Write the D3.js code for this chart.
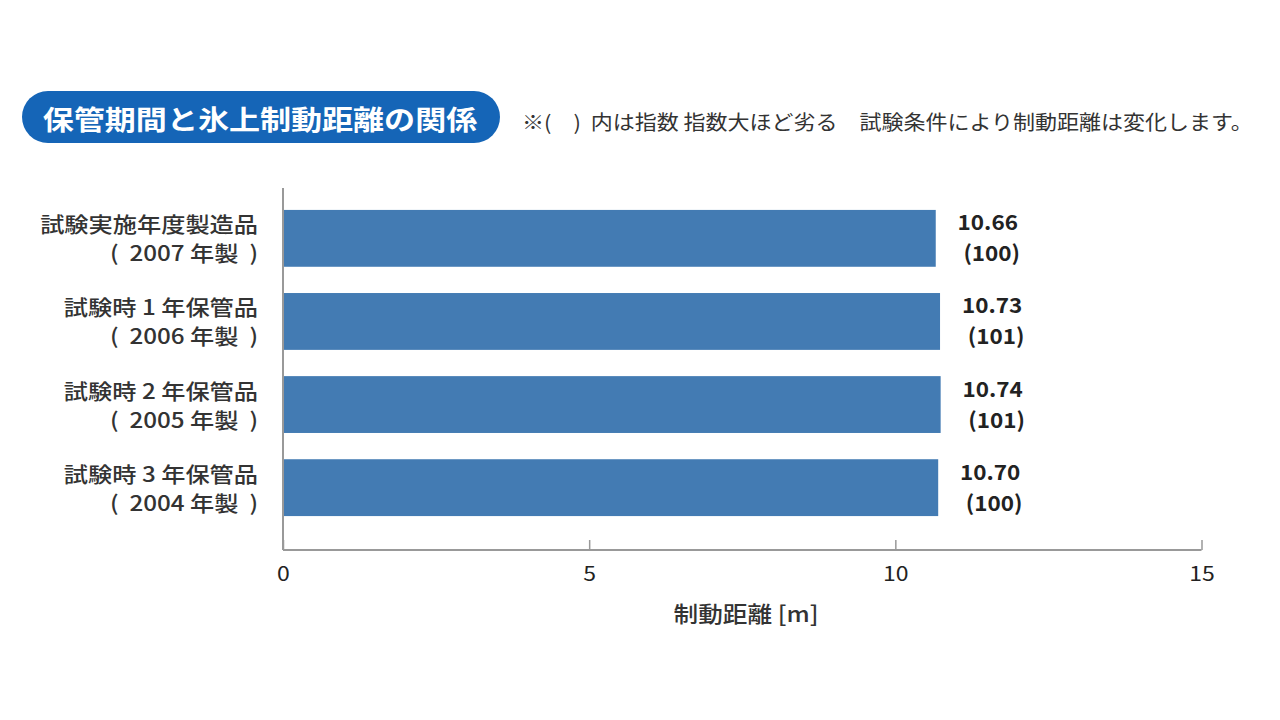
<!DOCTYPE html>
<html><head><meta charset="utf-8">
<script src="https://cdn.jsdelivr.net/npm/d3@7"></script>
<style>
html,body{margin:0;padding:0;background:#fff;}
svg{display:block;font-family:"Noto Sans CJK JP","Noto Sans",sans-serif;}
text{white-space:pre;}
</style></head>
<body><svg id="chart" width="1280" height="720"></svg>
<script>
const categoriesLine1 = ["試験実施年度製造品", "試験時 1 年保管品", "試験時 2 年保管品", "試験時 3 年保管品"];
const categoriesLine2 = ["(  2007 年製  )", "(  2006 年製  )", "(  2005 年製  )", "(  2004 年製  )"];
const distances = [10.66, 10.73, 10.74, 10.70];
const indices = [100, 101, 101, 100];
const xTicks = [0, 5, 10, 15];
const titleText = "保管期間と氷上制動距離の関係";
const noteText = "※(　)  内は指数 指数大ほど劣る　試験条件により制動距離は変化します。";
const axisTitle = "制動距離 [m]";

const data = distances.map((v, i) => ({v, idx: indices[i], l1: categoriesLine1[i], l2: categoriesLine2[i], key: i}));

const svg = d3.select("#chart");
const x = d3.scaleLinear().domain([0, 15]).range([283, 1201.5]);
const y = d3.scaleBand().domain(data.map(d => d.key)).range([193.3, 532.7]).paddingInner(0.316).paddingOuter(0.2);
const axisY = 550;

// helper: text horizontally stretched around its anchor point
function stretched(parent, ax, ay, sx) {
  return parent.append("g").attr("transform", `translate(${ax},${ay}) scale(${sx},1)`).append("text").attr("x", 0).attr("y", 0);
}

// Title pill
svg.append("rect").attr("x", 22).attr("y", 91).attr("width", 478).attr("height", 52)
  .attr("rx", 26).attr("fill", "#1565b7");
stretched(svg, 260, 118, 1.15).attr("text-anchor", "middle")
  .attr("dominant-baseline", "central").attr("fill", "#fff").attr("font-weight", "bold")
  .attr("font-size", 27).text(titleText);
stretched(svg, 522, 121, 1.1).attr("dominant-baseline", "central")
  .attr("fill", "#333").attr("font-size", 20).text(noteText);

// Bars
svg.selectAll("rect.bar").data(data).enter().append("rect").attr("class", "bar")
  .attr("x", x(0)).attr("y", d => y(d.key)).attr("width", d => x(d.v) - x(0))
  .attr("height", y.bandwidth()).attr("fill", "#437bb3");

// X axis
const xAxis = d3.axisBottom(x).tickValues(xTicks).tickSize(-10).tickPadding(17).tickFormat(d3.format("d"));
const gx = svg.append("g").attr("transform", `translate(0,${axisY})`).call(xAxis);
gx.select(".domain").attr("stroke", "#999").attr("stroke-width", 2).attr("d", `M${x(0)},0H${x(15)}`);
gx.selectAll(".tick line").attr("stroke", "#999").attr("stroke-width", 1.5);
gx.selectAll(".tick text").attr("fill", "#222").attr("font-size", 20)
  .attr("font-family", "\"Noto Sans CJK JP\",sans-serif")
  .attr("transform", "scale(1.15,1)");

// Y axis (vertical line)
const yAxis = d3.axisLeft(y).tickSize(0).tickFormat("");
const gy = svg.append("g").attr("transform", `translate(${x(0)},0)`).call(yAxis);
gy.select(".domain").attr("stroke", "#999").attr("stroke-width", 2).attr("d", `M0,188V${axisY}`);

// Category labels
data.forEach(d => {
  const cy = y(d.key) + y.bandwidth() / 2;
  stretched(svg, 258, cy - 6, 1.153).attr("text-anchor", "end").attr("fill", "#333")
    .attr("font-size", 21).attr("font-weight", 500).text(d.l1);
  stretched(svg, 258, cy + 23, 1.153).attr("text-anchor", "end").attr("fill", "#333")
    .attr("font-size", 21).attr("font-weight", 500).text(d.l2);
});

// Value labels
data.forEach(d => {
  const cy = y(d.key) + y.bandwidth() / 2;
  stretched(svg, x(d.v) + 52, cy - 8, 1.07).attr("text-anchor", "middle").attr("fill", "#222")
    .attr("font-size", 21).attr("font-weight", "bold").text(d3.format(".2f")(d.v));
  stretched(svg, x(d.v) + 56, cy + 23, 1.07).attr("text-anchor", "middle").attr("fill", "#222")
    .attr("font-size", 21).attr("font-weight", "bold").text(`(${d.idx})`);
});

// Axis title
stretched(svg, 746, 622, 1.12).attr("text-anchor", "middle")
  .attr("fill", "#333").attr("font-size", 22).attr("font-weight", 500).text(axisTitle);
</script></body></html>
